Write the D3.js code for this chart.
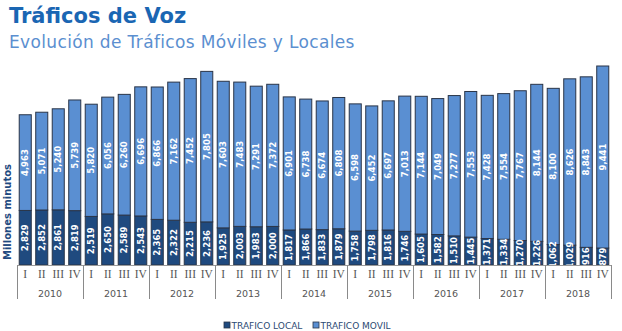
<!DOCTYPE html>
<html>
<head>
<meta charset="utf-8">
<script src="https://cdn.jsdelivr.net/npm/d3@7"></script>
<style>
  html, body { margin: 0; padding: 0; background: #fff; }
  svg { display: block; }
</style>
</head>
<body>
<svg id="chart" width="622" height="331"></svg>
<script>
const years = ["2010","2011","2012","2013","2014","2015","2016","2017","2018"];
const quarters = ["I","II","III","IV"];
const traficoLocal = [
  2829, 2852, 2861, 2819,
  2519, 2650, 2589, 2543,
  2365, 2322, 2215, 2236,
  1925, 2003, 1983, 2000,
  1817, 1866, 1833, 1879,
  1758, 1798, 1816, 1746,
  1605, 1582, 1510, 1445,
  1371, 1334, 1270, 1226,
  1062, 1029, 916, 879
];
const traficoMovil = [
  4963, 5071, 5240, 5739,
  5820, 6056, 6260, 6696,
  6866, 7162, 7452, 7805,
  7603, 7483, 7291, 7372,
  6901, 6738, 6674, 6808,
  6598, 6452, 6697, 7013,
  7144, 7049, 7277, 7553,
  7428, 7554, 7767, 8144,
  8100, 8626, 8843, 9441
];
const seriesNames = ["TRAFICO LOCAL", "TRAFICO MOVIL"];
const colors = ["#1f4a7f", "#5a8fd2"];

const keys = [];
years.forEach(y => quarters.forEach(q => keys.push(y + "-" + q)));
const rows = keys.map((k, i) => ({ key: k, local: traficoLocal[i], movil: traficoMovil[i] }));

const svg = d3.select("#chart");
const left = 17, right = 611, baseY = 265, topY = 66;

const x = d3.scaleBand().domain(keys).range([left, right]).paddingInner(0.27).paddingOuter(0.135);
const y = d3.scaleLinear().domain([0, 10320]).range([baseY, topY]);

const stack = d3.stack().keys(["local", "movil"]);
const layers = stack(rows);
const fmt = d3.format(",");

// Title
svg.append("text").attr("x", 9).attr("y", 23)
  .attr("font-family", "DejaVu Sans, Verdana, sans-serif").attr("font-weight", "bold")
  .attr("font-size", 21).attr("fill", "#1a66b3").text("Tráficos de Voz");
svg.append("text").attr("x", 9).attr("y", 48)
  .attr("font-family", "DejaVu Sans, Verdana, sans-serif")
  .attr("font-size", 17).attr("letter-spacing", 0.35).attr("fill", "#5b8fd0").text("Evolución de Tráficos Móviles y Locales");

// Bars
const g = svg.append("g");
layers.forEach((layer, li) => {
  g.selectAll(null).data(layer).enter().append("rect")
    .attr("x", d => x(d.data.key))
    .attr("y", d => y(d[1]))
    .attr("width", x.bandwidth())
    .attr("height", d => y(d[0]) - y(d[1]))
    .attr("fill", colors[li])
    .attr("stroke", "#2a3548")
    .attr("stroke-width", 1);
});

// Value labels
layers.forEach((layer) => {
  g.selectAll(null).data(layer).enter().append("text")
    .attr("transform", d => {
      const cx = x(d.data.key) + x.bandwidth() / 2;
      const cy = (y(d[0]) + y(d[1])) / 2;
      return `translate(${cx + 3},${cy}) rotate(-90)`;
    })
    .attr("text-anchor", "middle")
    .attr("font-family", "DejaVu Sans, Verdana, sans-serif")
    .attr("font-weight", "bold")
    .attr("font-size", 8.5)
    .attr("fill", "#ffffff")
    .text(d => fmt(d[1] - d[0]));
});

// X axis: baseline
svg.append("line").attr("x1", left).attr("x2", right).attr("y1", baseY + 0.5).attr("y2", baseY + 0.5)
  .attr("stroke", "#9a9a9a").attr("stroke-width", 1);

// Year separators
const xYear = d3.scaleBand().domain(years).range([left, right]);
const seps = years.map(yr => xYear(yr)).concat([right]);
svg.selectAll(null).data(seps).enter().append("line")
  .attr("x1", d => Math.round(d) + 0.5).attr("x2", d => Math.round(d) + 0.5)
  .attr("y1", baseY).attr("y2", 299)
  .attr("stroke", "#8a8a8a").attr("stroke-width", 1);

// Quarter labels
svg.selectAll(null).data(rows).enter().append("text")
  .attr("x", d => x(d.key) + x.bandwidth() / 2)
  .attr("y", 278)
  .attr("text-anchor", "middle")
  .attr("font-family", "Liberation Serif, Times New Roman, serif")
  .attr("font-size", 11.5)
  .attr("fill", "#555")
  .text(d => d.key.split("-")[1]);

// Year labels
svg.selectAll(null).data(years).enter().append("text")
  .attr("x", d => xYear(d) + xYear.bandwidth() / 2)
  .attr("y", 297)
  .attr("text-anchor", "middle")
  .attr("font-family", "DejaVu Sans, Verdana, sans-serif")
  .attr("font-size", 9.5)
  .attr("fill", "#555")
  .text(d => d);

// Y axis title
svg.append("text")
  .attr("transform", "translate(11,212) rotate(-90)")
  .attr("text-anchor", "middle")
  .attr("font-family", "DejaVu Sans, Verdana, sans-serif")
  .attr("font-weight", "bold")
  .attr("font-size", 10)
  .attr("fill", "#1f4a7f")
  .text("Millones minutos");

// Legend
const legendX = [224, 313];
seriesNames.forEach((name, i) => {
  svg.append("rect").attr("x", legendX[i]).attr("y", 322).attr("width", 6).attr("height", 6)
    .attr("fill", colors[i]).attr("stroke", "#2a3548").attr("stroke-width", 0.8);
  svg.append("text").attr("x", legendX[i] + 7.5).attr("y", 328.5)
    .attr("font-family", "DejaVu Sans, Verdana, sans-serif")
    .attr("font-size", 9)
    .attr("fill", "#2c4a72")
    .text(name);
});
</script>
</body>
</html>
